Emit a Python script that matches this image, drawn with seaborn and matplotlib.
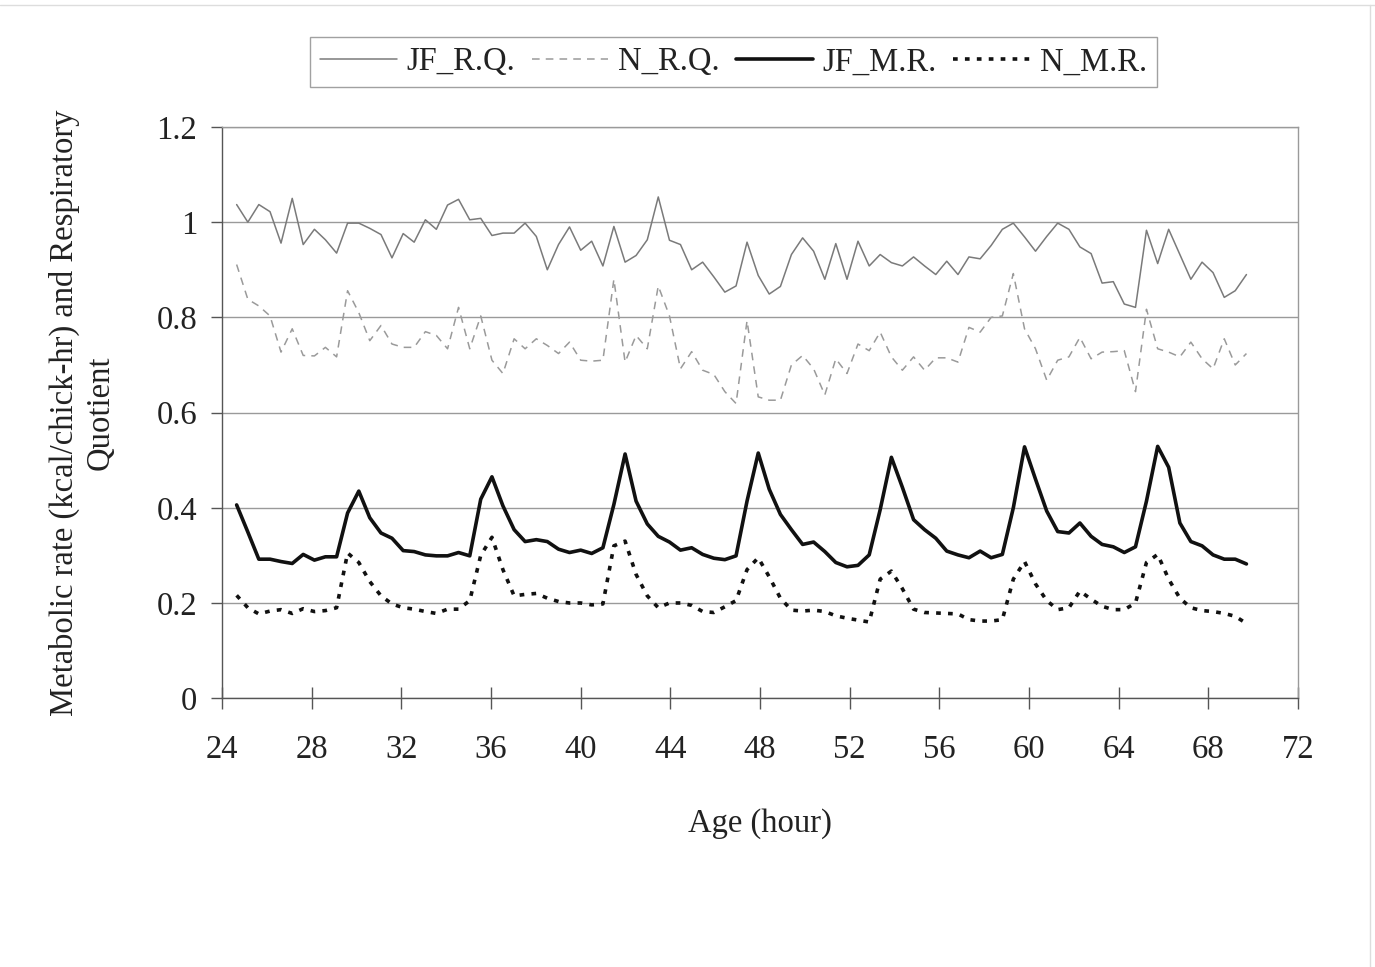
import matplotlib
matplotlib.use("Agg")
import matplotlib.pyplot as plt
import seaborn as sns
import pandas as pd
from matplotlib.lines import Line2D

age_hours = [
    24.65, 25.15, 25.64, 26.14, 26.63, 27.13, 27.62, 28.12, 28.61, 29.11,
    29.60, 30.10, 30.59, 31.09, 31.58, 32.08, 32.57, 33.07, 33.56, 34.06,
    34.55, 35.05, 35.54, 36.04, 36.53, 37.03, 37.52, 38.02, 38.51, 39.01,
    39.50, 40.00, 40.49, 40.99, 41.48, 41.98, 42.47, 42.97, 43.46, 43.96,
    44.45, 44.95, 45.44, 45.94, 46.43, 46.93, 47.42, 47.92, 48.41, 48.91,
    49.40, 49.90, 50.39, 50.89, 51.38, 51.88, 52.37, 52.87, 53.36, 53.86,
    54.35, 54.85, 55.34, 55.84, 56.33, 56.83, 57.32, 57.82, 58.31, 58.81,
    59.30, 59.80, 60.29, 60.79, 61.28, 61.78, 62.27, 62.77, 63.26, 63.76,
    64.25, 64.75, 65.24, 65.74, 66.23, 66.73, 67.22, 67.72, 68.21, 68.71,
    69.20, 69.70,
]

jf_rq = [
    1.037, 1.0, 1.037, 1.022, 0.956, 1.05, 0.953, 0.985, 0.963, 0.935, 0.998, 0.998,
    0.987, 0.974, 0.925, 0.976, 0.958, 1.005, 0.985, 1.036, 1.048, 1.005, 1.008, 0.972,
    0.977, 0.977, 0.998, 0.97, 0.90, 0.953, 0.99, 0.941, 0.96, 0.908, 0.991, 0.916,
    0.93, 0.963, 1.053, 0.962, 0.953, 0.90, 0.916, 0.885, 0.853, 0.866, 0.958, 0.888,
    0.849, 0.865, 0.932, 0.967, 0.939, 0.88, 0.955, 0.88, 0.96, 0.908, 0.932, 0.915,
    0.908, 0.927, 0.908, 0.89, 0.918, 0.89, 0.927, 0.923, 0.951, 0.985, 0.998,
    0.969, 0.939, 0.97, 0.998, 0.985, 0.948, 0.934, 0.872, 0.875, 0.828, 0.821,
    0.983, 0.913, 0.985, 0.932, 0.88, 0.916, 0.894, 0.842, 0.856, 0.89,
]

n_rq = [
    0.911, 0.838, 0.824, 0.803, 0.727, 0.776, 0.72, 0.719, 0.737, 0.717, 0.856, 0.81,
    0.751, 0.783, 0.744, 0.737, 0.737, 0.77, 0.762, 0.734, 0.821, 0.734, 0.803, 0.71,
    0.682, 0.755, 0.734, 0.755, 0.741, 0.724, 0.748, 0.71, 0.708, 0.71, 0.88, 0.706,
    0.762, 0.734, 0.866, 0.803, 0.692, 0.728, 0.689, 0.68, 0.644, 0.619, 0.793, 0.633,
    0.626, 0.626, 0.70, 0.72, 0.692, 0.637, 0.713, 0.682, 0.744, 0.73, 0.769, 0.717,
    0.689, 0.717, 0.689, 0.715, 0.715, 0.706, 0.779, 0.769, 0.80, 0.803, 0.892,
    0.776, 0.734, 0.668, 0.71, 0.717, 0.758, 0.713, 0.727, 0.728, 0.73, 0.644,
    0.817, 0.734, 0.727, 0.717, 0.748, 0.713, 0.692, 0.755, 0.70, 0.724,
]

jf_mr = [
    0.406, 0.349, 0.292, 0.292, 0.287, 0.283, 0.302, 0.29, 0.297, 0.297, 0.389, 0.435,
    0.379, 0.347, 0.336, 0.31, 0.308, 0.301, 0.299, 0.299, 0.306, 0.299, 0.418, 0.465,
    0.404, 0.354, 0.329, 0.333, 0.329, 0.313, 0.306, 0.311, 0.304, 0.316, 0.407, 0.513,
    0.414, 0.366, 0.34, 0.328, 0.311, 0.316, 0.302, 0.294, 0.291, 0.299, 0.414, 0.515,
    0.439, 0.386, 0.354, 0.323, 0.328, 0.308, 0.285, 0.276, 0.279, 0.301, 0.396, 0.506,
    0.443, 0.375, 0.354, 0.336, 0.309, 0.301, 0.295, 0.309, 0.295, 0.302, 0.40,
    0.528, 0.46, 0.393, 0.35, 0.347, 0.368, 0.34, 0.323, 0.318, 0.306, 0.318,
    0.414, 0.529, 0.485, 0.368, 0.329, 0.32, 0.301, 0.292, 0.292, 0.282,
]

n_mr = [
    0.216, 0.19, 0.177, 0.183, 0.186, 0.178, 0.188, 0.182, 0.184, 0.19, 0.305, 0.285,
    0.245, 0.215, 0.198, 0.19, 0.187, 0.182, 0.178, 0.187, 0.187, 0.205, 0.30, 0.338,
    0.27, 0.215, 0.218, 0.22, 0.21, 0.203, 0.2, 0.2, 0.196, 0.198, 0.32, 0.33,
    0.26, 0.215, 0.19, 0.2, 0.2, 0.195, 0.182, 0.18, 0.192, 0.205, 0.27, 0.295,
    0.255, 0.21, 0.185, 0.183, 0.185, 0.182, 0.173, 0.168, 0.164, 0.16, 0.25, 0.267,
    0.23, 0.187, 0.18, 0.179, 0.178, 0.177, 0.165, 0.162, 0.162, 0.165, 0.25,
    0.287, 0.24, 0.205, 0.186, 0.19, 0.225, 0.208, 0.193, 0.186, 0.186, 0.2,
    0.285, 0.302, 0.25, 0.21, 0.19, 0.184, 0.182, 0.178, 0.172, 0.157,
]

series_names = ["JF_R.Q.", "N_R.Q.", "JF_M.R.", "N_M.R."]
x_ticks = [24, 28, 32, 36, 40, 44, 48, 52, 56, 60, 64, 68, 72]
y_ticks = [0, 0.2, 0.4, 0.6, 0.8, 1.0, 1.2]
y_tick_labels = ["0", "0.2", "0.4", "0.6", "0.8", "1", "1.2"]

sns.set_theme(style="white")
plt.rcParams["font.family"] = ["Liberation Serif", "DejaVu Serif"]
plt.rcParams["mathtext.default"] = "regular"

FS = 23.5
fig = plt.figure(figsize=(13.75, 9.67), dpi=100)
ax = fig.add_axes([0.1615, 0.278, 0.944 - 0.1615, 0.8687 - 0.278])

styles = {
    "JF_R.Q.": dict(color="#7a7a7a", lw=1.1, ls="-"),
    "N_R.Q.": dict(color="#9a9a9a", lw=1.1, ls=(0, (5, 4))),
    "JF_M.R.": dict(color="#111111", lw=2.6, ls="-"),
    "N_M.R.": dict(color="#111111", lw=2.6, ls=(0, (1.3, 2.0))),
}
values = {"JF_R.Q.": jf_rq, "N_R.Q.": n_rq, "JF_M.R.": jf_mr, "N_M.R.": n_mr}

for name in series_names:
    df = pd.DataFrame({"age": age_hours, "value": values[name]})
    st = styles[name]
    sns.lineplot(data=df, x="age", y="value", ax=ax, color=st["color"],
                 linewidth=st["lw"], linestyle=st["ls"], label=name)

ax.set_xlim(24, 72)
ax.set_ylim(0, 1.2)
ax.set_xticks(x_ticks)
ax.set_xticklabels([str(t) for t in x_ticks])
ax.set_yticks(y_ticks)
ax.set_yticklabels(y_tick_labels)

ax.yaxis.grid(True, color="#9a9a9a", linewidth=1.0)
ax.xaxis.grid(False)
ax.set_axisbelow(True)

for side in ["top", "right"]:
    ax.spines[side].set_visible(True)
    ax.spines[side].set_color("#9a9a9a")
    ax.spines[side].set_linewidth(1.0)
for side in ["left", "bottom"]:
    ax.spines[side].set_color("#555555")
    ax.spines[side].set_linewidth(1.0)

ax.tick_params(axis="x", direction="inout", length=16, width=1.0, color="#555555",
               labelsize=FS, pad=18, labelcolor="#222222", bottom=True)
ax.tick_params(axis="y", direction="out", length=8, width=1.0, color="#555555",
               labelsize=FS, pad=10, labelcolor="#222222", left=True)

ax.set_xlabel("Age (hour)", fontsize=FS, color="#222222", labelpad=31)
ax.set_ylabel("Metabolic rate (kcal/chick-hr) and Respiratory\nQuotient",
              fontsize=FS, color="#222222", labelpad=29, linespacing=1.25)

handles, labels = ax.get_legend_handles_labels()
ax.get_legend().remove()
leg = fig.legend(handles, labels, loc="upper center", ncol=4,
                 bbox_to_anchor=(0.5335, 1 - 37 / 967), fontsize=FS,
                 frameon=True, fancybox=False, edgecolor="#8a8a8a",
                 handlelength=2.35, handletextpad=0.3, columnspacing=0.5,
                 borderpad=0.3, borderaxespad=0.0)
leg.get_frame().set_linewidth(1.0)
for t in leg.get_texts():
    t.set_color("#222222")

fig.add_artist(Line2D([0, 1], [0.995, 0.995], transform=fig.transFigure,
                      color="#dddddd", linewidth=1.0))
fig.add_artist(Line2D([0.9965, 0.9965], [0, 0.995], transform=fig.transFigure,
                      color="#dddddd", linewidth=1.0))

fig.savefig("out.png", dpi=100)
